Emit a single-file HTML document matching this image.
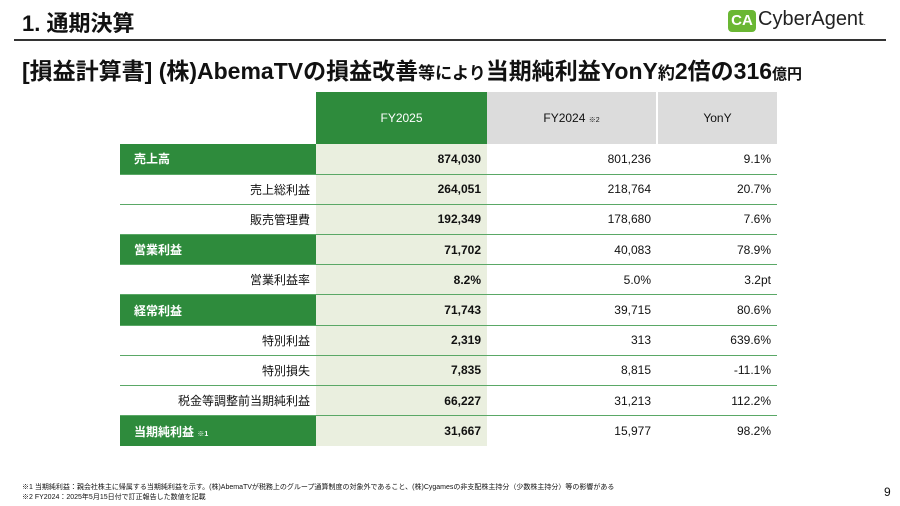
<!DOCTYPE html>
<html><head><meta charset="utf-8"><style>
*{margin:0;padding:0;box-sizing:border-box}
body{width:900px;height:506px;background:#fff;position:relative;overflow:hidden;font-family:"Liberation Sans","Noto Sans CJK JP",sans-serif;color:#111}
.a{position:absolute}
table{position:absolute;left:120px;top:92px;border-collapse:collapse;font-size:12px}
td{height:33.6px;padding:0 6px;border-bottom:1px solid #5aa866;text-align:right}
tr:not(.h) td{height:30.2px}
td.l{width:196px}
td.c1{width:171px;background:#eaefdf;font-weight:bold}
td.c2{width:170px}
td.c3{width:120px}
tr.g td.l{background:#2e8b3c;color:#fff;text-align:left;font-weight:bold;padding-left:14px}
tr.h td{height:52px;border:none;text-align:center;font-size:12px}
</style></head><body>
<div class="a" style="left:22px;top:6px;font-size:22px;font-weight:bold">1. 通期決算</div>
<div class="a" style="left:728px;top:10px;width:28px;height:22px;background:#6ab733;border-radius:4px;color:#fff;font-weight:bold;font-size:15px;line-height:22px;text-align:center">CA</div>
<div class="a" style="left:758px;top:8px;font-size:20px;color:#222">CyberAgent<span style="font-size:8px">.</span></div>
<div class="a" style="left:14px;top:39px;width:872px;height:2px;background:#333"></div>
<div class="a" style="left:22px;top:52px;font-size:23px;font-weight:bold;white-space:nowrap">[損益計算書] (株)AbemaTVの損益改善<span style="font-size:17px">等により</span>当期純利益YonY<span style="font-size:17px">約</span>2倍の316<span style="font-size:15px">億円</span></div>
<div class="a" style="left:143px;top:123px;font-size:7px">単位：百万円</div>
<table>
<tr class="h"><td class="l" style="background:#fff"></td><td style="background:#2e8b3c;color:#fff;width:171px">FY2025</td><td style="background:#dcdcdc;border-right:2px solid #fff">FY2024 <span style="font-size:7px">※2</span></td><td style="background:#dcdcdc">YonY</td></tr>
<tr class="g"><td class="l">売上高</td><td class="c1">874,030</td><td class="c2">801,236</td><td class="c3">9.1%</td></tr>
<tr><td class="l">売上総利益</td><td class="c1">264,051</td><td class="c2">218,764</td><td class="c3">20.7%</td></tr>
<tr><td class="l">販売管理費</td><td class="c1">192,349</td><td class="c2">178,680</td><td class="c3">7.6%</td></tr>
<tr class="g"><td class="l">営業利益</td><td class="c1">71,702</td><td class="c2">40,083</td><td class="c3">78.9%</td></tr>
<tr><td class="l">営業利益率</td><td class="c1">8.2%</td><td class="c2">5.0%</td><td class="c3">3.2pt</td></tr>
<tr class="g"><td class="l">経常利益</td><td class="c1">71,743</td><td class="c2">39,715</td><td class="c3">80.6%</td></tr>
<tr><td class="l">特別利益</td><td class="c1">2,319</td><td class="c2">313</td><td class="c3">639.6%</td></tr>
<tr><td class="l">特別損失</td><td class="c1">7,835</td><td class="c2">8,815</td><td class="c3">-11.1%</td></tr>
<tr><td class="l">税金等調整前当期純利益</td><td class="c1">66,227</td><td class="c2">31,213</td><td class="c3">112.2%</td></tr>
<tr class="g"><td class="l" style="border-bottom:none">当期純利益 <span style="font-size:7px">※1</span></td><td class="c1" style="border-bottom:none">31,667</td><td class="c2" style="border-bottom:none">15,977</td><td class="c3" style="border-bottom:none">98.2%</td></tr>
</table>
<div class="a" style="left:22px;top:483px;font-size:7px;line-height:10px;white-space:nowrap">※1 当期純利益：親会社株主に帰属する当期純利益を示す。(株)AbemaTVが税務上のグループ通算制度の対象外であること、(株)Cygamesの非支配株主持分（少数株主持分）等の影響がある<br>※2 FY2024：2025年5月15日付で訂正報告した数値を記載</div>
<div class="a" style="left:884px;top:485px;font-size:12px">9</div>
</body></html>
